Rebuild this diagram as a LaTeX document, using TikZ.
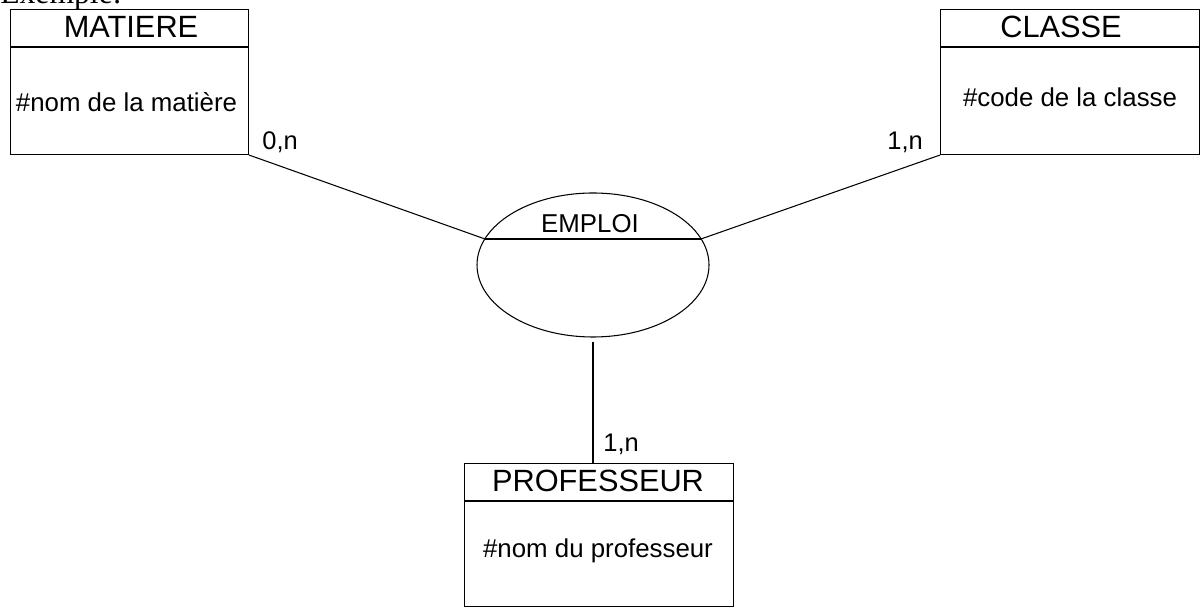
\documentclass[tikz,border=0pt]{standalone}
\usepackage{fontspec}
\setmainfont{Liberation Sans}
\newfontfamily\serifexemple{Liberation Serif}
\usetikzlibrary{shapes.geometric}
\tikzset{
  entite/.style = {draw, line width = 0.6pt, anchor = north west, inner sep = 0pt, minimum height = 2.9cm},
  titre/.style = {anchor = base, inner sep = 0pt, font = \fontsize{17.5}{20}\selectfont},
  attribut/.style = {anchor = base, inner sep = 0pt, font = \fontsize{14.7}{17}\selectfont},
  cardinalite/.style = {anchor = base west, inner sep = 0pt, font = \fontsize{14.5}{17}\selectfont},
  lien/.style = {line width = 0.6pt}
}
\begin{document}
\begin{tikzpicture}
\useasboundingbox (0, 0) rectangle (24.02, 12.16);
\node[anchor = base west, inner sep = 0pt, font = \serifexemple\fontsize{18}{20}\selectfont] (exemple) at (0, 12.08) {Exemple:};
% entites
\node[entite, minimum width = 4.76cm] (matiere) at (0.2, 11.98) {};
\draw[lien] ([yshift = -0.76cm]matiere.north west) -- ([yshift = -0.76cm]matiere.north east);
\node[titre] (matiereT) at (2.62, 11.41) {MATIERE};
\node[attribut] (matiereA) at (2.53, 9.93) {\#nom de la matière};
\node[entite, minimum width = 5.18cm] (classe) at (18.8, 11.98) {};
\draw[lien] ([yshift = -0.76cm]classe.north west) -- ([yshift = -0.76cm]classe.north east);
\node[titre] (classeT) at (21.22, 11.41) {CLASSE};
\node[attribut] (classeA) at (21.4, 10.03) {\#code de la classe};
\node[entite, minimum width = 5.38cm, minimum height = 2.86cm] (prof) at (9.28, 2.9) {};
\draw[lien] ([yshift = -0.76cm]prof.north west) -- ([yshift = -0.76cm]prof.north east);
\node[titre] (profT) at (11.96, 2.33) {PROFESSEUR};
\node[attribut] (profA) at (11.96, 1.0) {\#nom du professeur};
% association
\node[draw, ellipse, lien, minimum width = 4.64cm, minimum height = 2.88cm] (emploi) at (11.86, 6.86) {};
\coordinate (emploiG) at ([shift = {(-2.16, 0.52)}]emploi.center);
\coordinate (emploiD) at ([shift = {(2.16, 0.52)}]emploi.center);
\draw[lien] (emploiG) -- (emploiD);
\node[attribut] (emploiT) at (11.8, 7.51) {EMPLOI};
% liens
\draw[lien] (matiere.south east) -- (emploiG);
\draw[lien] (classe.south west) -- (emploiD);
\draw[lien] ([yshift = -0.08cm]emploi.south) -- (emploi.south |- prof.north);
\node[cardinalite] (cardM) at (5.24, 9.16) {0,n};
\node[cardinalite] (cardC) at (17.74, 9.16) {1,n};
\node[cardinalite] (cardP) at (12.06, 3.13) {1,n};
\end{tikzpicture}
\end{document}
